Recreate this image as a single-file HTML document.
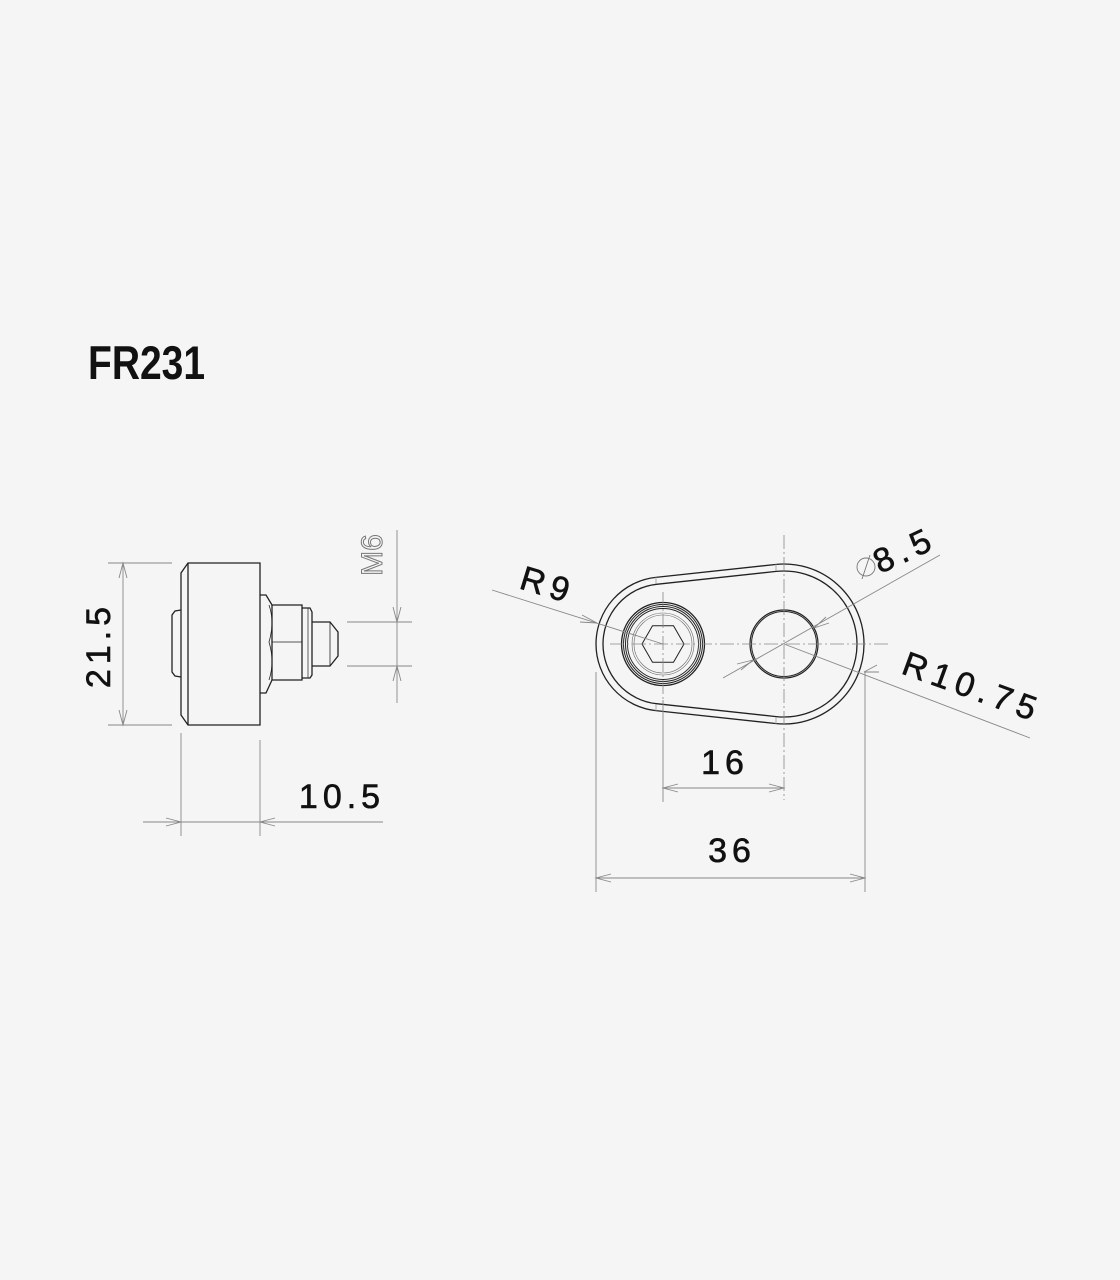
<!DOCTYPE html>
<html><head><meta charset="utf-8"><style>
html,body{margin:0;padding:0;background:#f5f5f5;}
svg{display:block}
text{font-family:"Liberation Sans",sans-serif;}
</style></head><body>
<svg width="1120" height="1280" viewBox="0 0 1120 1280" xmlns="http://www.w3.org/2000/svg">
<rect width="1120" height="1280" fill="#f5f5f5"/>
<text x="88" y="379" font-size="47" font-weight="bold" fill="#111" transform="translate(88 0) scale(0.83 1) translate(-88 0)">FR231</text>

<!-- LEFT VIEW -->
<g fill="none" stroke="#222" stroke-width="1.3">
  <path d="M188 563 L260 563 L260 725 L188 725 L181 715 L181 573 Z"/>
  <line x1="188" y1="563" x2="188" y2="725"/>
  <path d="M181 610 L175 611 L172 615 L172 672 L175 676 L181 677"/>
  <path d="M260 595 L266 595 L272 605 L302 605 L302 680 L272 680 L266 693 L260 693"/>
  <line x1="272" y1="605" x2="272" y2="680"/>
  <path d="M269 605 Q275 622 269 642 Q275 662 269 680" stroke-width="0.8"/>
  <line x1="272" y1="642" x2="302" y2="642" stroke-width="0.8"/>
  <path d="M302 608 L310 608 L312 612 L312 675 L310 678 L302 678"/>
  <line x1="308" y1="608" x2="308" y2="678" stroke-width="0.7"/>
  <path d="M312 622 L330 622 L338 632 L338 656 L330 666 L312 666"/>
  <line x1="330" y1="622" x2="330" y2="666" stroke-width="0.8"/>
</g>
<g stroke="#888" stroke-width="0.9" fill="none">
  <line x1="108" y1="563" x2="172" y2="563"/>
  <line x1="108" y1="725" x2="172" y2="725"/>
  <line x1="123" y1="563" x2="123" y2="725"/>
  <path d="M119 578 L123 563 L127 578 M119 710 L123 725 L127 710"/>
  <line x1="181" y1="733" x2="181" y2="836"/>
  <line x1="260" y1="740" x2="260" y2="836"/>
  <line x1="143" y1="822" x2="383" y2="822"/>
  <path d="M166 818 L181 822 L166 826 M275 818 L260 822 L275 826"/>
  <line x1="397" y1="530" x2="397" y2="703"/>
  <line x1="347" y1="622" x2="412" y2="622"/>
  <line x1="347" y1="666" x2="412" y2="666"/>
  <path d="M393 607 L397 622 L401 607 M393 681 L397 666 L401 681"/>
</g>
<g fill="#111" stroke="#111" stroke-width="0.6" font-size="34" letter-spacing="5">
<text x="0" y="0" text-anchor="middle" transform="translate(110 645) rotate(-90)">21.5</text>
<text x="342" y="808" text-anchor="middle">10.5</text>
</g>
<text x="0" y="0" font-size="30" fill="none" stroke="#777" stroke-width="1" text-anchor="middle" transform="translate(382 555) rotate(-90)">M6</text>

<!-- RIGHT VIEW -->
<g fill="none" stroke="#222" stroke-width="1.3">
  <path d="M655.8 577.4 L775.4 564.5 A80 80 0 0 1 864 644 A80 80 0 0 1 775.4 723.5 L655.8 710.6 A67 67 0 0 1 596 644 A67 67 0 0 1 655.8 577.4 Z"/>
  <path d="M656.5 584.3 L776.2 571.4 A73 73 0 0 1 857 644 A73 73 0 0 1 776.2 716.6 L656.5 703.7 A60 60 0 0 1 603 644 A60 60 0 0 1 656.5 584.3 Z"/>
  <circle cx="663" cy="644" r="41.5"/>
  <circle cx="663" cy="644" r="39.5" stroke-width="1"/>
  <circle cx="663" cy="644" r="37.5" stroke-width="1"/>
  <circle cx="663" cy="644" r="35.5" stroke-width="0.9"/>
  <circle cx="663" cy="644" r="31" stroke-width="0.6" stroke="#666"/>
  <circle cx="663" cy="644" r="29" stroke-width="0.6" stroke="#666"/>
  <path d="M642 644 L652.5 625.8 L673.5 625.8 L684 644 L673.5 662.2 L652.5 662.2 Z" stroke-width="1"/>
  <circle cx="784" cy="644" r="34" stroke-width="1.2"/>
  <circle cx="784" cy="644" r="32.5" stroke-width="1"/>
</g>
<g stroke="#999" stroke-width="0.8" fill="none">
  <line x1="656" y1="577" x2="656" y2="584"/><line x1="656" y1="704" x2="656" y2="711"/>
  <line x1="776" y1="564" x2="776" y2="571"/><line x1="776" y1="717" x2="776" y2="724"/>
</g>
<g stroke="#888" stroke-width="0.8" fill="none" stroke-dasharray="14 3 2 3">
  <line x1="610" y1="644" x2="890" y2="644"/>
  <line x1="784" y1="535" x2="784" y2="800"/>
  <line x1="663" y1="592" x2="663" y2="700"/>
</g>
<g stroke="#888" stroke-width="0.9" fill="none">
  <line x1="492" y1="590" x2="663" y2="644"/>
  <path d="M582 615 L597 623 L580 622"/>
  <line x1="940" y1="555" x2="723" y2="678"/>
  <path d="M829 623 L814 628 L826 617 M737 664 L753 660 L741 670"/>
  <line x1="784" y1="644" x2="1030" y2="738"/>
  <path d="M879 672 L864 672 L877 665"/>
  <line x1="663" y1="700" x2="663" y2="802"/>
  <line x1="596" y1="672" x2="596" y2="892"/>
  <line x1="865" y1="672" x2="865" y2="892"/>
  <line x1="663" y1="788" x2="784" y2="788"/>
  <path d="M678 784 L663 788 L678 792 M769 784 L784 788 L769 792"/>
  <line x1="596" y1="878" x2="865" y2="878"/>
  <path d="M611 874 L596 878 L611 882 M850 874 L865 878 L850 882"/>
  <circle cx="866" cy="567" r="9" stroke="#777"/>
  <line x1="862" y1="579" x2="870" y2="555" stroke="#777"/>
</g>
<g fill="#111" stroke="#111" stroke-width="0.6" font-size="34" letter-spacing="6">
<text x="0" y="0" transform="translate(518 588) rotate(17)">R9</text>
<text x="0" y="0" transform="translate(880 574) rotate(-25)">8.5</text>
<text x="0" y="0" transform="translate(900 673) rotate(20)">R10.75</text>
<text x="725" y="774" letter-spacing="5" text-anchor="middle">16</text>
<text x="732" y="862" letter-spacing="5" text-anchor="middle">36</text>
</g>
</svg>
</body></html>
